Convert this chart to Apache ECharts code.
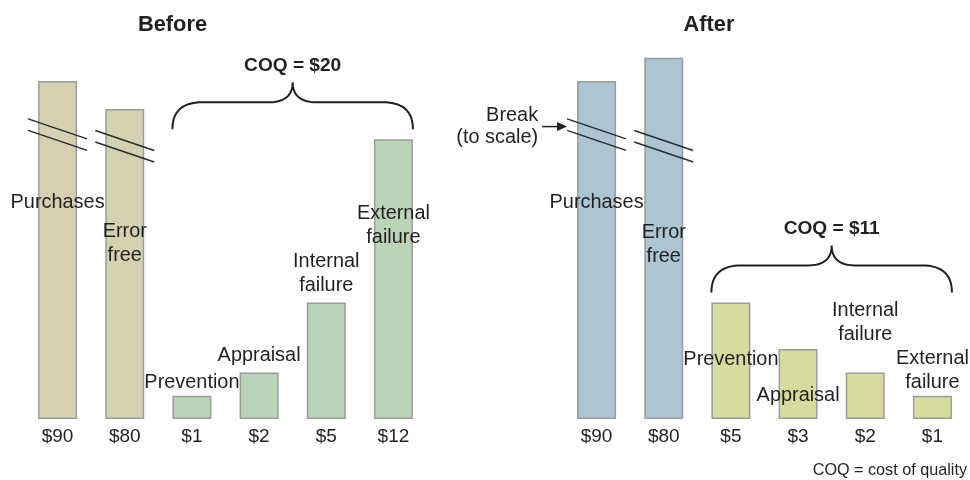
<!DOCTYPE html>
<html><head><meta charset="utf-8">
<script src="https://cdn.jsdelivr.net/npm/echarts@6/dist/echarts.min.js"></script>
<style>html,body{margin:0;padding:0;background:#fff}#c{width:970px;height:480px}</style>
</head><body><div id="c"></div>
<script>
// ---- data ----
const barNames = ['Purchases', 'Error\nfree', 'Prevention', 'Appraisal', 'Internal\nfailure', 'External\nfailure'];
const ticksBefore = ['$90', '$80', '$1', '$2', '$5', '$12'];
const ticksAfter  = ['$90', '$80', '$5', '$3', '$2', '$1'];
// drawn bar heights in $ units (first two bars are drawn with a break)
const heightsBefore = [14.5, 13.3, 1, 2, 5, 12];
const heightsAfter  = [14.5, 15.5, 5, 3, 2, 1];
const coqBefore = 'COQ = $20';
const coqAfter  = 'COQ = $11';
const titles = ['Before', 'After'];
const footnote = 'COQ = cost of quality';
const breakNote = 'Break\n(to scale)';

// ---- style ----
const bigColors = ['#d4d1b0', '#abc5d3'];
const coqColors = ['#b9d4b6', '#d7db9d'];
const TXT = '#231f20';
const NARROW = "'Liberation Sans Narrow', 'Liberation Sans', Arial, sans-serif";
const SANS = "'Liberation Sans', Arial, sans-serif";
const ctx = document.createElement('canvas').getContext('2d');
function fit(text, w, fam, weight) {
  ctx.font = (weight || 'normal') + ' 100px ' + fam;
  return +(100 * w / ctx.measureText(text).width).toFixed(1);
}
const labelSize = fit('Prevention', 95, NARROW);
const tickSize = Math.max(19, fit('$90', 26, NARROW));
const titleSize = fit('Before', 69, NARROW, 'bold');
const coqSize = fit('COQ = $20', 97, SANS, 'bold');
const footSize = fit(footnote, 154, SANS);

// label centre offsets relative to bar tops (px)
const labelDyBefore = [122, 134.5, -13, -17, -28.5, 86];
const labelDyAfter  = [122, 186.5, 57.5, 46, -49.5, -25];
const breakAt = [12.2, 11.7]; // y (in $ units) where break marks cross the two tall bars

function seriesData(heights, dys) {
  return heights.map((h, i) => ({
    value: h,
    label: {
      show: true, formatter: barNames[i], position: 'top', distance: 0,
      offset: [0, dys[i]], verticalAlign: 'middle', align: 'center',
      fontFamily: NARROW, fontSize: labelSize, lineHeight: 24, color: TXT
    }
  }));
}

const chart = echarts.init(document.getElementById('c'), null, {renderer: 'canvas'});
const axisX = (gi, data) => ({
  gridIndex: gi, type: 'category', data: data,
  axisLine: {show: false}, axisTick: {show: false},
  axisLabel: {fontFamily: NARROW, fontSize: tickSize, color: TXT, margin: 8}
});
const axisY = gi => ({gridIndex: gi, type: 'value', min: 0, max: 16, show: false, splitLine: {show: false}});
const barSeries = (gi, heights, dys) => ({
  type: 'bar', xAxisIndex: gi, yAxisIndex: gi, barWidth: 39,
  data: seriesData(heights, dys),
  itemStyle: {
    borderColor: '#9c9c9c', borderWidth: 1.5,
    color: p => p.dataIndex < 2 ? bigColors[gi] : coqColors[gi]
  },
  emphasis: {disabled: true}, animation: false
});

chart.setOption({
  animation: false,
  grid: [
    {left: 24, width: 403, top: 46, bottom: 61},
    {left: 563, width: 403, top: 46, bottom: 61}
  ],
  xAxis: [axisX(0, ticksBefore), axisX(1, ticksAfter)],
  yAxis: [axisY(0), axisY(1)],
  series: [barSeries(0, heightsBefore, labelDyBefore), barSeries(1, heightsAfter, labelDyAfter)]
});

// ---- annotations computed through the axes ----
const g = [];
function px(gi, cat, val) { return chart.convertToPixel({gridIndex: gi}, [cat, val]); }
function quad(p0, p1, p2, n) {
  const out = [];
  for (let k = 0; k <= n; k++) {
    const t = k / n, a = (1 - t) * (1 - t), b = 2 * (1 - t) * t, c = t * t;
    out.push([a * p0[0] + b * p1[0] + c * p2[0], a * p0[1] + b * p1[1] + c * p2[1]]);
  }
  return out;
}
const half = 19.5;
[0, 1].forEach(gi => {
  const heights = gi === 0 ? heightsBefore : heightsAfter;
  // break marks
  for (let i = 0; i < 2; i++) {
    const p = px(gi, i, breakAt[i]);
    [-5.75, 5.75].forEach(d => {
      g.push({type: 'line', z: 100, shape: {x1: p[0] - 29.5, y1: p[1] + d - 10, x2: p[0] + 29.5, y2: p[1] + d + 10},
        style: {stroke: '#2b2b2b', lineWidth: 1.5}});
    });
  }
  // bracket over COQ bars
  const L = px(gi, 2, 0)[0] - half;
  const R = px(gi, 5, 0)[0] + half;
  const maxH = Math.max(...heights.slice(2));
  const B = px(gi, 2, maxH)[1] - 10;
  const H = B - 27, P = B - 47, C = (L + R) / 2;
  let pts = [];
  pts = pts.concat(quad([L, B], [L, H], [L + 30, H], 16));
  pts = pts.concat(quad([C - 24, H], [C, H], [C, P], 16));
  pts = pts.concat(quad([C, P], [C, H], [C + 24, H], 16));
  pts = pts.concat(quad([R - 30, H], [R, H], [R, B], 16));
  g.push({type: 'polyline', z: 100, shape: {points: pts}, style: {fill: null, stroke: TXT, lineWidth: 2}});
  g.push({type: 'text', z: 100, x: C, y: P - 17, style: {text: gi === 0 ? coqBefore : coqAfter, align: 'center', verticalAlign: 'middle',
    font: `bold ${coqSize}px ${SANS}`, fill: TXT}});
});
// titles
g.push({type: 'text', x: 172.5, y: 25, style: {text: titles[0], align: 'center', verticalAlign: 'middle', font: `bold ${titleSize}px ${NARROW}`, fill: TXT}});
g.push({type: 'text', x: 709, y: 25, style: {text: titles[1], align: 'center', verticalAlign: 'middle', font: `bold ${titleSize}px ${NARROW}`, fill: TXT}});
// footnote
g.push({type: 'text', x: 967, y: 471, style: {text: footnote, align: 'right', verticalAlign: 'middle', font: `${footSize}px ${SANS}`, fill: TXT}});
// break note with arrow
const bp = px(1, 0, breakAt[0]);
const tipX = bp[0] - 29.5, tipY = bp[1] - 8;
g.push({type: 'line', z: 100, shape: {x1: tipX - 25, y1: tipY, x2: tipX - 8, y2: tipY}, style: {stroke: TXT, lineWidth: 1.5}});
g.push({type: 'polygon', z: 100, shape: {points: [[tipX, tipY], [tipX - 10, tipY - 4.5], [tipX - 10, tipY + 4.5]]}, style: {fill: TXT}});
g.push({type: 'text', x: tipX - 29, y: tipY, style: {text: breakNote, align: 'right', verticalAlign: 'middle', lineHeight: 22,
  font: `${labelSize}px ${NARROW}`, fill: TXT}});
chart.setOption({graphic: g});
</script>
</body></html>
